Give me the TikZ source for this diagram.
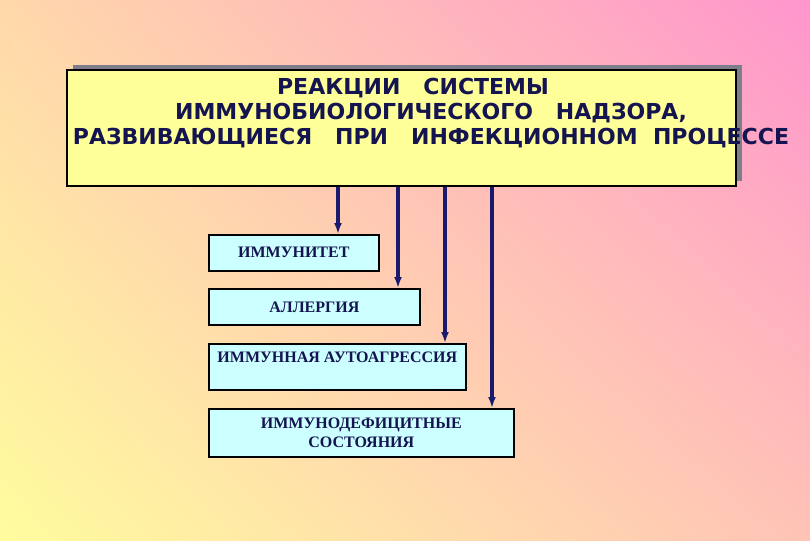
\documentclass[tikz,border=0pt]{standalone}
\usepackage{fontspec}
\setmainfont{Liberation Serif}
\newfontfamily\titlefont{DejaVu Sans}
\usetikzlibrary{arrows.meta,positioning,shadows,shadings}
\definecolor{navy}{RGB}{25,25,110}
\definecolor{textnavy}{RGB}{20,20,80}
\definecolor{titlefill}{RGB}{255,255,153}
\definecolor{itemfill}{RGB}{204,255,255}
\definecolor{shadowgray}{RGB}{125,125,140}
\definecolor{bgul}{RGB}{255,216,170}
\definecolor{bgur}{RGB}{255,150,205}
\definecolor{bgll}{RGB}{255,252,158}
\definecolor{bglr}{RGB}{255,195,182}

\begin{document}
\begin{tikzpicture}[
    x=1pt, y=-1pt,
    mainbox/.style={draw, line width=2.6pt, fill=titlefill, minimum width=669pt, minimum height=116pt,
        drop shadow={shadow xshift=6pt, shadow yshift=5pt, fill=shadowgray, opacity=1}},
    item/.style={draw, line width=1.6pt, fill=itemfill, anchor=north west, align=center,
        font=\fontsize{16}{19}\selectfont\bfseries, text=textnavy, inner sep=0pt},
    flow/.style={-{Latex[length=11pt, width=8pt]}, line width=3.2pt, draw=navy, fill=navy}
]
\useasboundingbox (0,0) rectangle (810,540);
\shade[upper left=bgul, upper right=bgur, lower left=bgll, lower right=bglr] (0,0) rectangle (810,540);
\node[mainbox] (title) at (401.5,128) {};
\node[align=center, text=textnavy, font=\titlefont\fontsize{22}{25}\selectfont\bfseries] (titletext) at (431,113)
    {РЕАКЦИИ\ \ \ СИСТЕМЫ\hspace*{36pt}\\ ИММУНОБИОЛОГИЧЕСКОГО\ \ \ НАДЗОРА,\hspace*{16pt}\\ РАЗВИВАЮЩИЕСЯ\ \ \ ПРИ\ \ \ ИНФЕКЦИОННОМ\ \ ПРОЦЕССЕ};
\node[item, minimum width=170pt, minimum height=36pt] (immun) at (208,234) {ИММУНИТЕТ};
\node[item, minimum width=211pt, minimum height=36pt] (allerg) at (208,288) {АЛЛЕРГИЯ};
\node[item, minimum width=257pt, minimum height=46pt] (autoagr) at (208,343) {ИММУННАЯ АУТОАГРЕССИЯ\\ \mbox{}};
\node[item, minimum width=305pt, minimum height=48pt] (immdef) at (208,408) {ИММУНОДЕФИЦИТНЫЕ\\ СОСТОЯНИЯ};
\coordinate (out1) at (338,186);
\coordinate (out2) at (398,186);
\coordinate (out3) at (445,186);
\coordinate (out4) at (492,186);
\draw[flow] (out1 |- title.south) -- (out1 |- immun.north);
\draw[flow] (out2 |- title.south) -- (out2 |- allerg.north);
\draw[flow] (out3 |- title.south) -- (out3 |- autoagr.north);
\draw[flow] (out4 |- title.south) -- (out4 |- immdef.north);
\end{tikzpicture}
\end{document}
